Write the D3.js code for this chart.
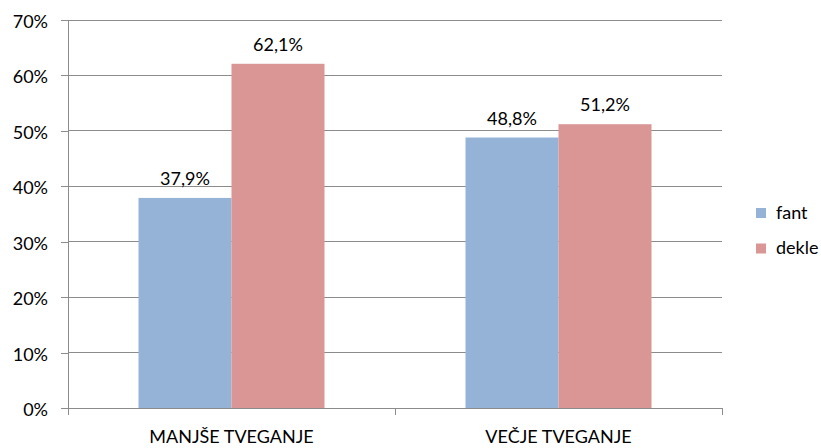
<!DOCTYPE html>
<html>
<head>
<meta charset="utf-8">
<script src="https://cdn.jsdelivr.net/npm/d3@7"></script>
<style>
  html, body { margin: 0; padding: 0; background: #fff; }
  svg text { font-family: Lato, "Open Sans", "Noto Sans", sans-serif; fill: #000; }
</style>
</head>
<body>
<svg id="chart" width="821" height="448"></svg>
<script>
// Risk groups and share of boys / girls in each
const categories = ["MANJŠE TVEGANJE", "VEČJE TVEGANJE"];
const seriesNames = ["fant", "dekle"];
const fant = [37.9, 48.8];
const dekle = [62.1, 51.2];
const yTicks = [0, 10, 20, 30, 40, 50, 60, 70];
const colors = ["#95B3D7", "#D99694"];

const svg = d3.select("#chart");
const plot = { left: 68, right: 722, top: 20, bottom: 408 };
const fontSize = "18px";

const x0 = d3.scaleBand().domain(categories).range([plot.left, plot.right]).paddingInner(0).paddingOuter(0);
const groupWidth = 186;
const x1 = d3.scaleBand().domain(seriesNames).range([0, groupWidth]);
const y = d3.scaleLinear().domain([0, 70]).range([plot.bottom, plot.top]);

const fmt = v => d3.format(".1f")(v).replace(".", ",") + "%";
const pct = v => v + "%";

// horizontal gridlines
svg.append("g").selectAll("line").data(yTicks).join("line")
  .attr("x1", plot.left).attr("x2", plot.right)
  .attr("y1", d => y(d)).attr("y2", d => y(d))
  .attr("stroke", "#8c8c8c").attr("stroke-width", 1)
  .attr("shape-rendering", "crispEdges");

// y axis
const yAxis = d3.axisLeft(y).tickValues(yTicks).tickFormat(pct).tickSize(7).tickPadding(13);
const gy = svg.append("g").attr("transform", `translate(${plot.left},0)`).call(yAxis);
gy.select(".domain").attr("stroke", "#8c8c8c").attr("shape-rendering", "crispEdges");
gy.selectAll(".tick line").attr("stroke", "#8c8c8c").attr("shape-rendering", "crispEdges");
gy.selectAll(".tick text").style("font-size", fontSize).attr("fill", "#000").attr("dy", "0.42em");

// bars
const rows = categories.map((c, i) => ({ cat: c, values: [fant[i], dekle[i]] }));
const groups = svg.append("g").selectAll("g").data(rows).join("g")
  .attr("transform", d => `translate(${x0(d.cat) + (x0.bandwidth() - groupWidth) / 2},0)`);

groups.selectAll("rect").data(d => d.values.map((v, j) => ({ name: seriesNames[j], v, j })))
  .join("rect")
  .attr("x", d => x1(d.name))
  .attr("width", x1.bandwidth())
  .attr("y", d => y(d.v))
  .attr("height", d => y(0) - y(d.v))
  .attr("fill", d => colors[d.j]);

groups.selectAll("text").data(d => d.values.map((v, j) => ({ name: seriesNames[j], v, j })))
  .join("text")
  .attr("x", d => x1(d.name) + x1.bandwidth() / 2)
  .attr("y", d => y(d.v) - 13)
  .attr("text-anchor", "middle")
  .style("font-size", fontSize)
  .text(d => fmt(d.v));

// x axis
const xAxis = d3.axisBottom(x0).tickSize(0).tickPadding(22);
const gx = svg.append("g").attr("transform", `translate(0,${plot.bottom})`).call(xAxis);
gx.select(".domain").attr("stroke", "#8c8c8c").attr("shape-rendering", "crispEdges");
gx.selectAll(".tick text").style("font-size", fontSize).attr("fill", "#000");
// category separator ticks
const sepX = [plot.left, x0(categories[1]), plot.right];
gx.selectAll(".sep").data(sepX).join("line").attr("class", "sep")
  .attr("x1", d => d).attr("x2", d => d).attr("y1", 0).attr("y2", 7)
  .attr("stroke", "#8c8c8c").attr("shape-rendering", "crispEdges");

// legend
const legend = svg.append("g").attr("transform", "translate(756,208)");
const li = legend.selectAll("g").data(seriesNames).join("g")
  .attr("transform", (d, i) => `translate(0,${i * 35.5})`);
li.append("rect").attr("width", 10).attr("height", 10).attr("fill", (d, i) => colors[i]);
li.append("text").attr("x", 20).attr("y", 10.5).style("font-size", fontSize).text(d => d);
</script>
</body>
</html>
